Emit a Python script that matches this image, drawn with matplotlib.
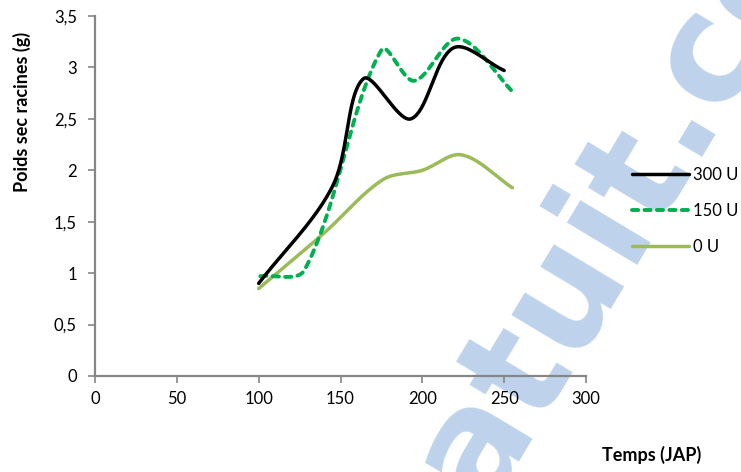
import numpy as np
import matplotlib
matplotlib.use("Agg")
import matplotlib.pyplot as plt
from matplotlib.ticker import FuncFormatter, MultipleLocator

plt.rcParams['font.family'] = ['Lato', 'DejaVu Sans']

# Dry root weight (g) versus days after planting, per treatment
jap_300 = [100, 145, 164, 193, 219, 250]
poids_300 = [0.90, 1.84, 2.89, 2.50, 3.19, 2.97]

jap_150 = [101, 128, 175, 195, 222, 256]
poids_150 = [0.97, 1.03, 3.17, 2.87, 3.28, 2.75]

jap_0 = [100, 140, 176, 200, 224, 255]
poids_0 = [0.85, 1.39, 1.91, 2.00, 2.15, 1.83]

labels = ['300 U', '150 U', '0 U']
colors = ['#000000', '#00b050', '#9bbb59']

x_ticks = [0, 50, 100, 150, 200, 250, 300]

fig = plt.figure(figsize=(7.41, 4.72), dpi=100)
ax = fig.add_axes([95 / 741, 1 - 376 / 472, (586 - 95) / 741, (376 - 16) / 472])
ax.patch.set_alpha(0)
ax.set_xlim(0, 300)
ax.set_ylim(0, 3.5)


def smooth(xs, ys, n=40):
    """Bezier smoothing through the points, tangents weighted by on-screen segment length."""
    p = ax.transData.transform(np.column_stack([xs, ys]).astype(float))
    ext = np.vstack([p[0], p, p[-1]])
    t = np.linspace(0, 1, n)[:, None]
    out = []
    for i in range(1, len(ext) - 2):
        p0, p1, p2, p3 = ext[i - 1], ext[i], ext[i + 1], ext[i + 2]
        d01 = np.hypot(*(p1 - p0))
        d12 = np.hypot(*(p2 - p1))
        d23 = np.hypot(*(p3 - p2))
        b1 = p1 + (p2 - p0) * d12 / (d01 + d12) / 3.0
        b2 = p2 - (p3 - p1) * d12 / (d12 + d23) / 3.0
        seg = ((1 - t) ** 3) * p1 + 3 * ((1 - t) ** 2) * t * b1 \
            + 3 * (1 - t) * t ** 2 * b2 + t ** 3 * p2
        out.append(seg if i == 1 else seg[1:])
    c = ax.transData.inverted().transform(np.vstack(out))
    return c[:, 0], c[:, 1]


# faint site watermark behind the chart
fig.text(0.872, 0.49, 'gratuit.com', rotation=59, rotation_mode='anchor',
         ha='center', va='baseline', fontsize=108, fontweight='bold',
         family='DejaVu Sans', color='#bed3eb', zorder=-1)

x, y = smooth(jap_300, poids_300)
ax.plot(x, y, color=colors[0], lw=2.5, solid_capstyle='round', label=labels[0], zorder=4)
x, y = smooth(jap_150, poids_150)
ax.plot(x, y, color=colors[1], lw=2.8, dashes=(1.6, 1.6), dash_capstyle='round',
        label=labels[1], zorder=3)
x, y = smooth(jap_0, poids_0)
ax.plot(x, y, color=colors[2], lw=2.5, solid_capstyle='round', label=labels[2], zorder=2)

ax.set_xticks(x_ticks)
ax.yaxis.set_major_locator(MultipleLocator(0.5))
ax.yaxis.set_major_formatter(FuncFormatter(lambda v, _: f'{v:g}'.replace('.', ',')))

for side in ('top', 'right'):
    ax.spines[side].set_visible(False)
for side in ('left', 'bottom'):
    ax.spines[side].set_color('#868686')
    ax.spines[side].set_linewidth(1.6)
ax.tick_params(axis='both', colors='#868686', labelcolor='black', length=5,
               width=1.2, labelsize=12, direction='out')
ax.tick_params(axis='x', pad=6)
ax.tick_params(axis='y', pad=8)

fig.text(22 / 741, 1 - 112 / 472, 'Poids sec racines (g)', rotation=90,
         ha='center', va='center', fontsize=13, fontweight='bold')
fig.text(652 / 741, 1 - 455 / 472, 'Temps (JAP)', ha='center', va='center',
         fontsize=13, fontweight='bold')

fig.legend(loc='center left', bbox_to_anchor=(632 / 741, 1 - 210.5 / 472),
           frameon=False, fontsize=12, handlelength=3.4, handletextpad=0.25,
           labelspacing=1.2, borderpad=0, borderaxespad=0)

fig.savefig('out.png', dpi=100)
